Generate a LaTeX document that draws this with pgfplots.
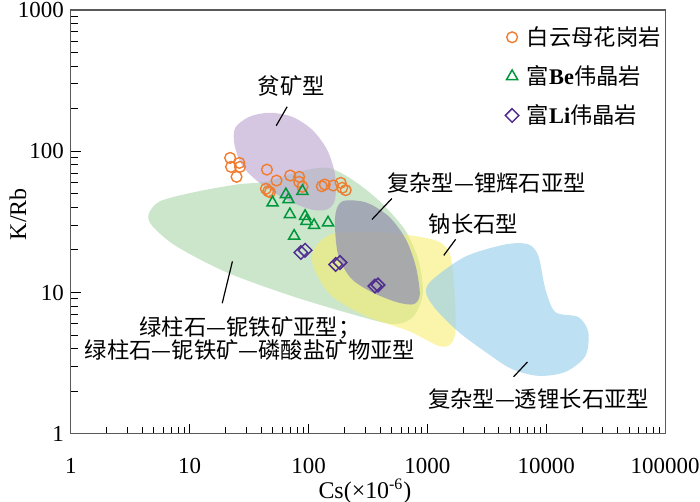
\documentclass[border=0pt]{standalone}
\usepackage{fontspec}
\setmainfont{Liberation Serif}
\newfontfamily\cjk{Noto Sans CJK SC}
\usepackage{pgfplots}
\pgfplotsset{compat=1.18}
\definecolor{cOrange}{RGB}{238,125,49}
\definecolor{cGreenM}{RGB}{0,150,60}
\definecolor{cPurpleM}{RGB}{80,45,145}
\definecolor{cGreen}{RGB}{204,230,204}
\definecolor{cPurple}{RGB}{185,162,207}
\definecolor{cYellow}{RGB}{248,237,102}
\definecolor{cDark}{RGB}{155,156,176}
\definecolor{cBlue}{RGB}{153,207,235}
\newcommand{\cjkf}{\cjk\fontsize{11.2}{11.5}\selectfont}
\begin{document}
\begin{tikzpicture}
\useasboundingbox (-35.5pt,-34pt) rectangle (315.5pt,217.5pt);
\begin{axis}[
  at={(0pt,0pt)}, anchor=south west,
  width=298pt, height=212.5pt, scale only axis,
  xmode=log, ymode=log, xmin=1, xmax=100000, ymin=1, ymax=1000,
  log ticks with fixed point,
  /pgf/number format/1000 sep={},
  /pgf/number format/assume math mode=true,
  tick pos=left, tick align=inside,
  major tick length=5pt, minor tick length=3.5pt,
  axis line style={black!65, line width=0.6pt},
  every tick/.style={black, line width=0.5pt},
  ticklabel style={font=\fontsize{11.5}{14}\selectfont},
  xticklabel style={anchor=base, yshift=-20pt},
  xlabel={Cs(×10\textsuperscript{-6})}, ylabel={K/Rb},
  label style={font=\fontsize{12}{14}\selectfont},
  xlabel style={at={(axis description cs:0.495,-0.136)}, anchor=center},
  ylabel style={at={(axis description cs:-0.089,0.518)}, anchor=center},
  legend style={draw=none, fill=none, at={(rel axis cs:0.7305,0.967)}, anchor=north west,
    font=\cjkf, row sep=6.6pt, inner sep=0pt, nodes={inner sep=1pt},
    /tikz/every odd column/.append style={column sep=3pt}},
  legend cell align=left,
  legend image code/.code={\draw plot coordinates {(0pt,0pt)};},
]
% regions
\addplot[forget plot, draw=none, fill=cGreen, smooth cycle] coordinates {
(4.51,35.7) (5.58,44.1) (10.55,51.0) (24.7,58.1) (44.1,61.0) (83.4,71.8) (140.5,76.6) (199,68.4) (304,53.6) (448,40.0) (659,27.1) (847,16.6) (915,9.73) (755,6.70) (523,5.97) (266,6.80) (72.8,9.42) (20.4,13.9) (7.75,21.2) (4.87,29.4)};
\addplot[forget plot, draw=none, fill=cPurple, fill opacity=0.6, smooth cycle] coordinates {
(24.2,146.8) (31.8,175.4) (46.7,187.2) (72.8,175.4) (107.2,142) (143.2,102.6) (167.2,68.4) (167.2,45.5) (143.2,38.7) (105.1,38.7) (64.9,45.5) (38.5,60.0) (27.7,79.1) (23.8,111.3)};
\addplot[forget plot, draw=none, fill=cYellow, fill opacity=0.55, smooth cycle] coordinates {
(122.7,22.6) (167.2,26.2) (414,26.7) (1089,23.8) (1513,19.6) (1665,12.0) (1730,5.51) (1571,4.32) (1247,4.18) (698,5.33) (304,6.80) (157.8,9.42) (113.6,14.1) (107.2,18.6)};
\addplot[forget plot, draw=none, fill=cDark, fill opacity=0.82, smooth cycle] coordinates {
(191.4,44.1) (304,43.4) (474,34.5) (659,23.8) (799,15.3) (863,9.73) (769,8.27) (554,8.54) (342,10.05) (228,12.6) (177,18.6) (167.2,34.0)};
\addplot[forget plot, draw=none, fill=cBlue, fill opacity=0.65, smooth cycle] coordinates {
(970,10.05) (1110,12.4) (2099,18.0) (4548,21.9) (7096,21.9) (8610,18.0) (9840,10.55) (11940,7.26) (18620,6.70) (22600,5.25) (21330,3.55) (14490,2.74) (8610,2.57) (5105,2.88) (3090,3.79) (1834,5.25) (1175,7.62)};
% data
\addplot[only marks, mark=o, mark size=2.7pt, draw=cOrange, line width=0.7pt] coordinates {
(21.9,89.7) (26.2,82.7) (22.3,77.5) (26.5,77.5) (24.8,65.9) (44.7,74.1) (53.8,62.0) (70.1,67.3) (83.4,65.9) (83.4,60.7) (88.9,56.0) (43.8,54.2) (45.8,52.1) (47.4,51.3) (129.3,56.5) (137,58.1) (161.8,57.2) (186.6,59.7) (192.4,55.1) (205.6,53.0)};
\addlegendentry{白云母花岗岩}
\addplot[only marks, mark=triangle, mark size=3.2pt, draw=cGreenM, line width=0.75pt] coordinates {
(49.8,43.2) (64.5,49.4) (67.8,45.5) (88.9,52.1) (69.7,35.7) (93.6,34.7) (96.0,32.0) (111.4,29.9) (146,31.2) (75.7,25.1)};
\addlegendentry{富\textbf{\rmfamily Be}伟晶岩}
\addplot[only marks, mark=square, mark size=2.4pt, draw=cPurpleM, line width=0.75pt, every mark/.append style={rotate=45}] coordinates {
(86.2,19.2) (93.6,19.9) (169.4,15.8) (184,16.3) (362,11.1) (384,11.3)};
\addlegendentry{富\textbf{\rmfamily Li}伟晶岩}
% annotations
\draw[line width=0.6pt] (axis cs:53.5,151.6) -- (axis cs:66.1,206.5);
\draw[line width=0.6pt] (axis cs:342,32.9) -- (axis cs:503,46.3);
\draw[line width=0.6pt] (axis cs:1373,18.3) -- (axis cs:1730,23.8);
\draw[line width=0.6pt] (axis cs:5310,2.53) -- (axis cs:6950,3.22);
\draw[line width=0.6pt] (axis cs:18.8,8.40) -- (axis cs:22.9,16.6);
\node[font=\cjkf] at (axis cs:71.5,290) {贫矿型};
\node[font=\cjkf] at (axis cs:3150,59.1) {复杂型—锂辉石亚型};
\node[font=\cjkf] at (axis cs:2450,30.3) {钠长石型};
\node[font=\cjkf] at (axis cs:8610,1.766) {复杂型—透锂长石亚型};
\node[font=\cjkf, align=center] at (axis cs:32.1,4.72) {绿柱石—铌铁矿亚型；\\绿柱石—铌铁矿—磷酸盐矿物亚型};
\end{axis}
\end{tikzpicture}
\end{document}
